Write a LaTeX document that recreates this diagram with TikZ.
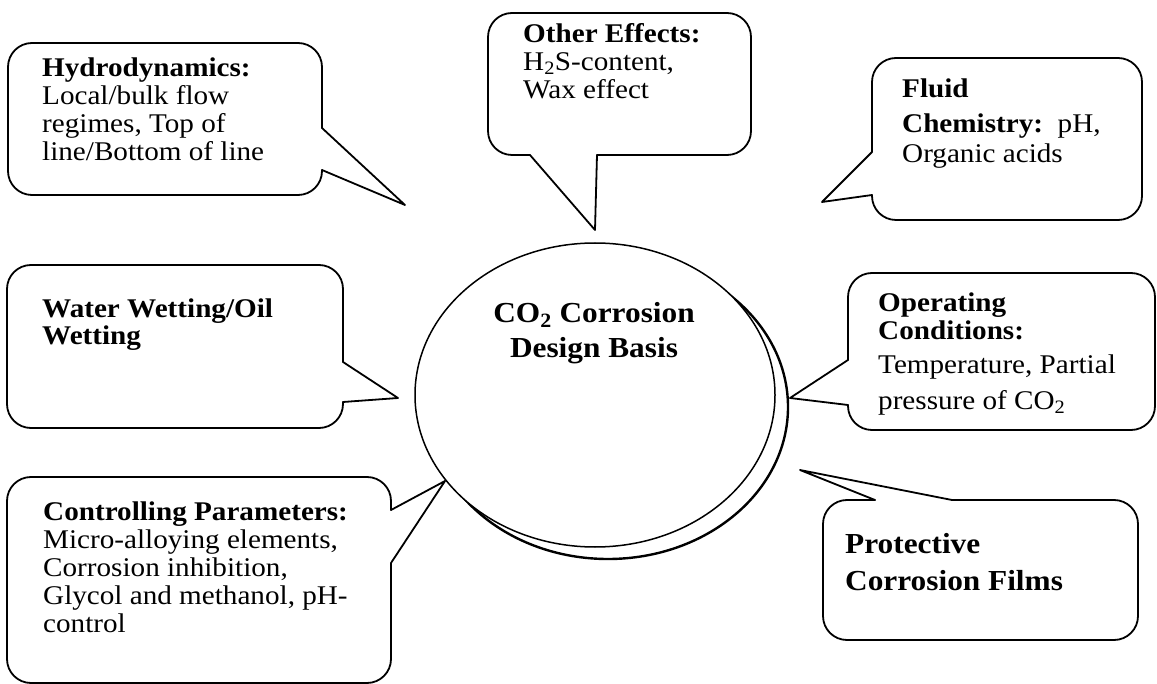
\documentclass[tikz,border=0pt]{standalone}
\usepackage{fontspec}
\setmainfont{Liberation Serif}[FakeStretch=1.08]
\usetikzlibrary{shapes.geometric}
\newcommand\cbody{\fontsize{27}{28}\selectfont}
\newcommand\cbig{\fontsize{29}{28}\selectfont\bfseries}
\begin{document}
\begin{tikzpicture}[x=1pt,y=-1pt, line join=round, line cap=round,
  bline/.style={line width=1.8pt, rounded corners=24pt},
  tline/.style={line width=1.8pt},
  txt/.style={anchor=base west, inner sep=0pt},
  ctxt/.style={anchor=base, inner sep=0pt},
  shadowring/.style={line width=2.4pt},
  mainring/.style={line width=1.5pt, fill=white}
]
\useasboundingbox (0,0) rectangle (1157,684);

% central ellipse with shadow
\draw[shadowring] (608,407) ellipse [x radius=180pt, y radius=152pt];
\node[ellipse, draw, mainring, minimum width=360pt, minimum height=304pt, inner sep=0pt] (core) at (595,395) {};
\node[ctxt] (coretext) at (594,323) {\parbox[t]{320pt}{\centering\cbig CO\textsubscript{2} Corrosion\\[7pt]Design Basis}};

% Hydrodynamics
\draw[bline] (322,128) -- (322,43) -- (8,43) -- (8,195) -- (322,195) -- (322,170);
\coordinate (hydtip) at (405,205);
\draw[tline] (322,128) -- (hydtip) -- (322,170);
\node[txt] (hyd) at (42,77) {\parbox[t]{400pt}{\cbody\textbf{Hydrodynamics:}\\Local/bulk flow\\regimes, Top of\\line/Bottom of line}};

% Other effects
\draw[bline] (597,155) -- (751,155) -- (751,13) -- (488,13) -- (488,155) -- (530,155);
\coordinate (othtip) at (595,230);
\draw[tline] (530,155) -- (othtip) -- (597,155);
\node[txt] (oth) at (523,43) {\parbox[t]{400pt}{\cbody\textbf{Other Effects:}\\H\textsubscript{2}S-content,\\Wax effect}};

% Fluid chemistry
\draw[bline] (872,152) -- (872,58) -- (1142,58) -- (1142,220) -- (872,220) -- (872,195);
\coordinate (flutip) at (822,202);
\draw[tline] (872,152) -- (flutip) -- (872,195);
\node[txt] (flu) at (902,98) {\parbox[t]{400pt}{\cbody\textbf{Fluid}\\[7pt]\textbf{Chemistry:}\ \ pH,\\[2pt]Organic acids}};

% Water wetting
\draw[bline] (343,362) -- (343,265) -- (7,265) -- (7,428) -- (343,428) -- (343,402);
\coordinate (wattip) at (398,398);
\draw[tline] (343,362) -- (wattip) -- (343,402);
\node[txt] (wat) at (42,318) {\parbox[t]{400pt}{\cbody\textbf{Water Wetting/Oil}\\[-1pt]\textbf{Wetting}}};

% Operating conditions
\draw[bline] (848,360) -- (848,273) -- (1155,273) -- (1155,430) -- (848,430) -- (848,405);
\coordinate (opetip) at (790,398);
\draw[tline] (848,360) -- (opetip) -- (848,405);
\node[txt] (ope) at (878,312) {\parbox[t]{400pt}{\cbody\textbf{Operating}\\\textbf{Conditions:}\\[6pt]Temperature, Partial\\[8pt]pressure of CO\textsubscript{2}}};

% Protective corrosion films
\draw[bline] (952,500) -- (1138,500) -- (1138,640) -- (823,640) -- (823,500) -- (875,500);
\coordinate (protip) at (800,470);
\draw[tline] (952,500) -- (protip) -- (875,500);
\node[txt] (pro) at (845,553) {\parbox[t]{400pt}{\cbig Protective\\[9pt]Corrosion Films}};

% Controlling parameters
\draw[bline] (391,510) -- (391,477) -- (7,477) -- (7,683) -- (391,683) -- (391,563);
\coordinate (ctltip) at (445,481);
\draw[tline] (391,510) -- (ctltip) -- (391,563);
\node[txt] (ctl) at (43,520) {\parbox[t]{400pt}{\cbody\textbf{Controlling Parameters:}\\Micro-alloying elements,\\Corrosion inhibition,\\Glycol and methanol, pH-\\control}};
\end{tikzpicture}
\end{document}
